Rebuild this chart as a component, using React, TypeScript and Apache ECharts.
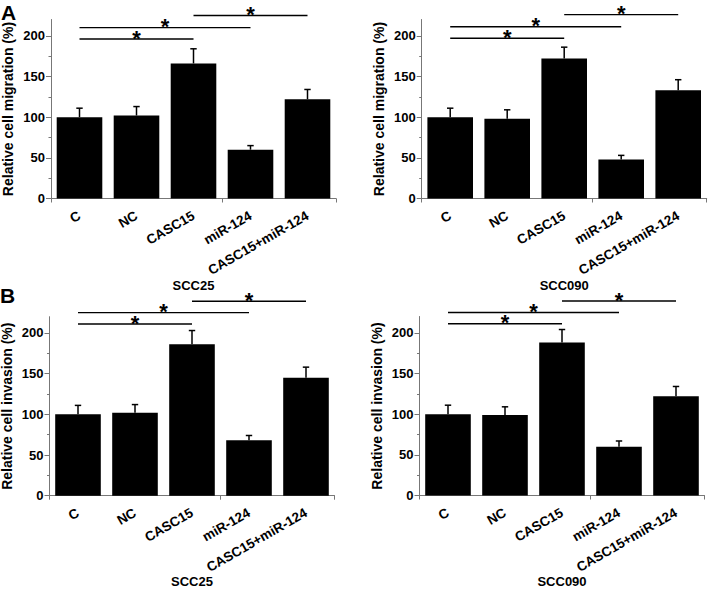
import React, { useEffect, useRef } from "react";
import * as echarts from "echarts";

const categories = ["C", "NC", "CASC15", "miR-124", "CASC15+miR-124"];

const migrationSCC25 = [100, 102, 166, 60, 122];
const migrationSCC25Err = [11, 11, 18, 5, 12];
const migrationSCC090 = [100, 98, 172, 48, 133];
const migrationSCC090Err = [11, 11, 14, 5, 13];
const invasionSCC25 = [100, 102, 186, 68, 145];
const invasionSCC25Err = [11, 10, 17, 6, 13];
const invasionSCC090 = [100, 99, 188, 60, 122];
const invasionSCC090Err = [11, 10, 16, 7, 12];

const yTicks = [0, 50, 100, 150, 200];

// significance brackets: [fromIndex, toIndex, height]
const sigMigSCC25 = [[0, 2, 196], [0, 3, 210], [2, 4, 225]];
const sigMigSCC090 = [[0, 2, 197], [0, 3, 211], [2, 4, 226]];
const sigInvSCC25 = [[0, 2, 211], [0, 3, 225], [2, 4, 239]];
const sigInvSCC090 = [[0, 2, 211], [0, 3, 225], [2, 4, 239]];

const FONT = "'Liberation Sans', Arial, Helvetica, sans-serif";
const AXIS_COLOR = "#777";

export default function App() {
  const ref = useRef<HTMLDivElement>(null);

  useEffect(() => {
    if (!ref.current) return;
    const chart = echarts.init(ref.current, null, { renderer: "svg" });

    const panels = [
      { grid: { left: 51, top: 19.5, width: 285, height: 179 }, nameGap: 80, values: migrationSCC25, errs: migrationSCC25Err, sig: sigMigSCC25, yName: "Relative cell migration (%)", xName: "SCC25" },
      { grid: { left: 421.7, top: 19.5, width: 285, height: 179 }, nameGap: 80, values: migrationSCC090, errs: migrationSCC090Err, sig: sigMigSCC090, yName: "Relative cell migration (%)", xName: "SCC090" },
      { grid: { left: 49.5, top: 316.7, width: 285, height: 179 }, nameGap: 79, values: invasionSCC25, errs: invasionSCC25Err, sig: sigInvSCC25, yName: "Relative cell invasion (%)", xName: "SCC25" },
      { grid: { left: 419.5, top: 316.5, width: 285, height: 179 }, nameGap: 79, values: invasionSCC090, errs: invasionSCC090Err, sig: sigInvSCC090, yName: "Relative cell invasion (%)", xName: "SCC090" },
    ];

    const mainX = panels.map((p, i) => ({
      type: "category",
      gridIndex: i,
      data: categories,
      position: "bottom",
      axisLine: { lineStyle: { color: AXIS_COLOR, width: 1 } },
      axisTick: { alignWithLabel: true, length: 4, lineStyle: { color: AXIS_COLOR } },
      axisLabel: { rotate: 30, interval: 0, fontSize: 13.5, fontWeight: "bold", color: "#000", fontFamily: FONT, margin: 16 },
      name: p.xName,
      nameLocation: "middle",
      nameGap: p.nameGap,
      nameMoveOverlap: false,
      nameTextStyle: { fontSize: 13, fontWeight: "bold", color: "#000", fontFamily: FONT },
    }));
    const boundaryX = panels.map((p, i) => ({
      type: "category",
      gridIndex: i,
      data: categories,
      position: "bottom",
      axisLine: { show: false },
      axisTick: { show: true, length: 4, lineStyle: { color: AXIS_COLOR } },
      axisLabel: { show: false },
    }));

    const yAxes = panels.map((p, i) => ({
      type: "value",
      gridIndex: i,
      min: 0,
      max: 220,
      axisLine: { show: true, lineStyle: { color: AXIS_COLOR, width: 1 } },
      axisTick: { show: true, length: 5, customValues: yTicks, lineStyle: { color: AXIS_COLOR } },
      minorTick: { show: true, splitNumber: 2, length: 2.5, lineStyle: { color: AXIS_COLOR } },
      splitLine: { show: false },
      axisLabel: { customValues: yTicks, fontSize: 13, fontWeight: "bold", color: "#000", fontFamily: FONT, margin: 6 },
      name: p.yName,
      nameLocation: "middle",
      nameGap: 36,
      nameMoveOverlap: false,
      nameTextStyle: { fontSize: 14, fontWeight: "bold", color: "#000", fontFamily: FONT },
    }));

    const series: any[] = [];
    panels.forEach((p, i) => {
      series.push({
        type: "bar",
        xAxisIndex: i,
        yAxisIndex: i,
        data: p.values,
        barCategoryGap: "20%",
        itemStyle: { color: "#000" },
        z: 2,
      });
      series.push({
        type: "custom",
        xAxisIndex: i,
        yAxisIndex: i,
        data: p.values.map((v, k) => [k, v, p.errs[k]]),
        encode: { x: 0, y: 1 },
        z: 3,
        renderItem: (params: any, api: any) => {
          const x = api.value(0);
          const v = api.value(1);
          const e = api.value(2);
          const a = api.coord([x, v]);
          const b = api.coord([x, v + e]);
          return {
            type: "group",
            children: [
              { type: "line", shape: { x1: a[0], y1: a[1], x2: b[0], y2: b[1] }, style: { stroke: "#000", lineWidth: 1.5 } },
              { type: "line", shape: { x1: b[0] - 3.2, y1: b[1], x2: b[0] + 3.2, y2: b[1] }, style: { stroke: "#000", lineWidth: 1.5 } },
            ],
          };
        },
      });
      series.push({
        type: "custom",
        xAxisIndex: i,
        yAxisIndex: i,
        data: p.sig,
        encode: { x: [0, 1], y: 2 },
        clip: false,
        z: 4,
        renderItem: (params: any, api: any) => {
          const f = api.value(0);
          const t = api.value(1);
          const h = api.value(2);
          const a = api.coord([f, h]);
          const b = api.coord([t, h]);
          return {
            type: "group",
            children: [
              { type: "line", shape: { x1: a[0], y1: a[1], x2: b[0], y2: b[1] }, style: { stroke: "#000", lineWidth: 1.4 } },
              {
                type: "text",
                x: (a[0] + b[0]) / 2,
                y: a[1] - 1,
                style: { text: "*", font: `bold 22px ${FONT}`, align: "center", verticalAlign: "middle", fill: "#000" },
              },
            ],
          };
        },
      });
    });

    chart.setOption({
      animation: false,
      backgroundColor: "#fff",
      title: [
        { text: "A", left: 1, top: 2, padding: 0, textStyle: { fontSize: 21, fontWeight: "bold", color: "#000", fontFamily: FONT } },
        { text: "B", left: 0, top: 285, padding: 0, textStyle: { fontSize: 21, fontWeight: "bold", color: "#000", fontFamily: FONT } },
      ],
      grid: panels.map((p) => ({ ...p.grid, containLabel: false, outerBoundsMode: "none" })),
      xAxis: [...mainX, ...boundaryX],
      yAxis: yAxes,
      series,
    });

    return () => chart.dispose();
  }, []);

  return <div ref={ref} style={{ position: "absolute", left: 0, top: 0, width: 709, height: 589 }} />;
}
